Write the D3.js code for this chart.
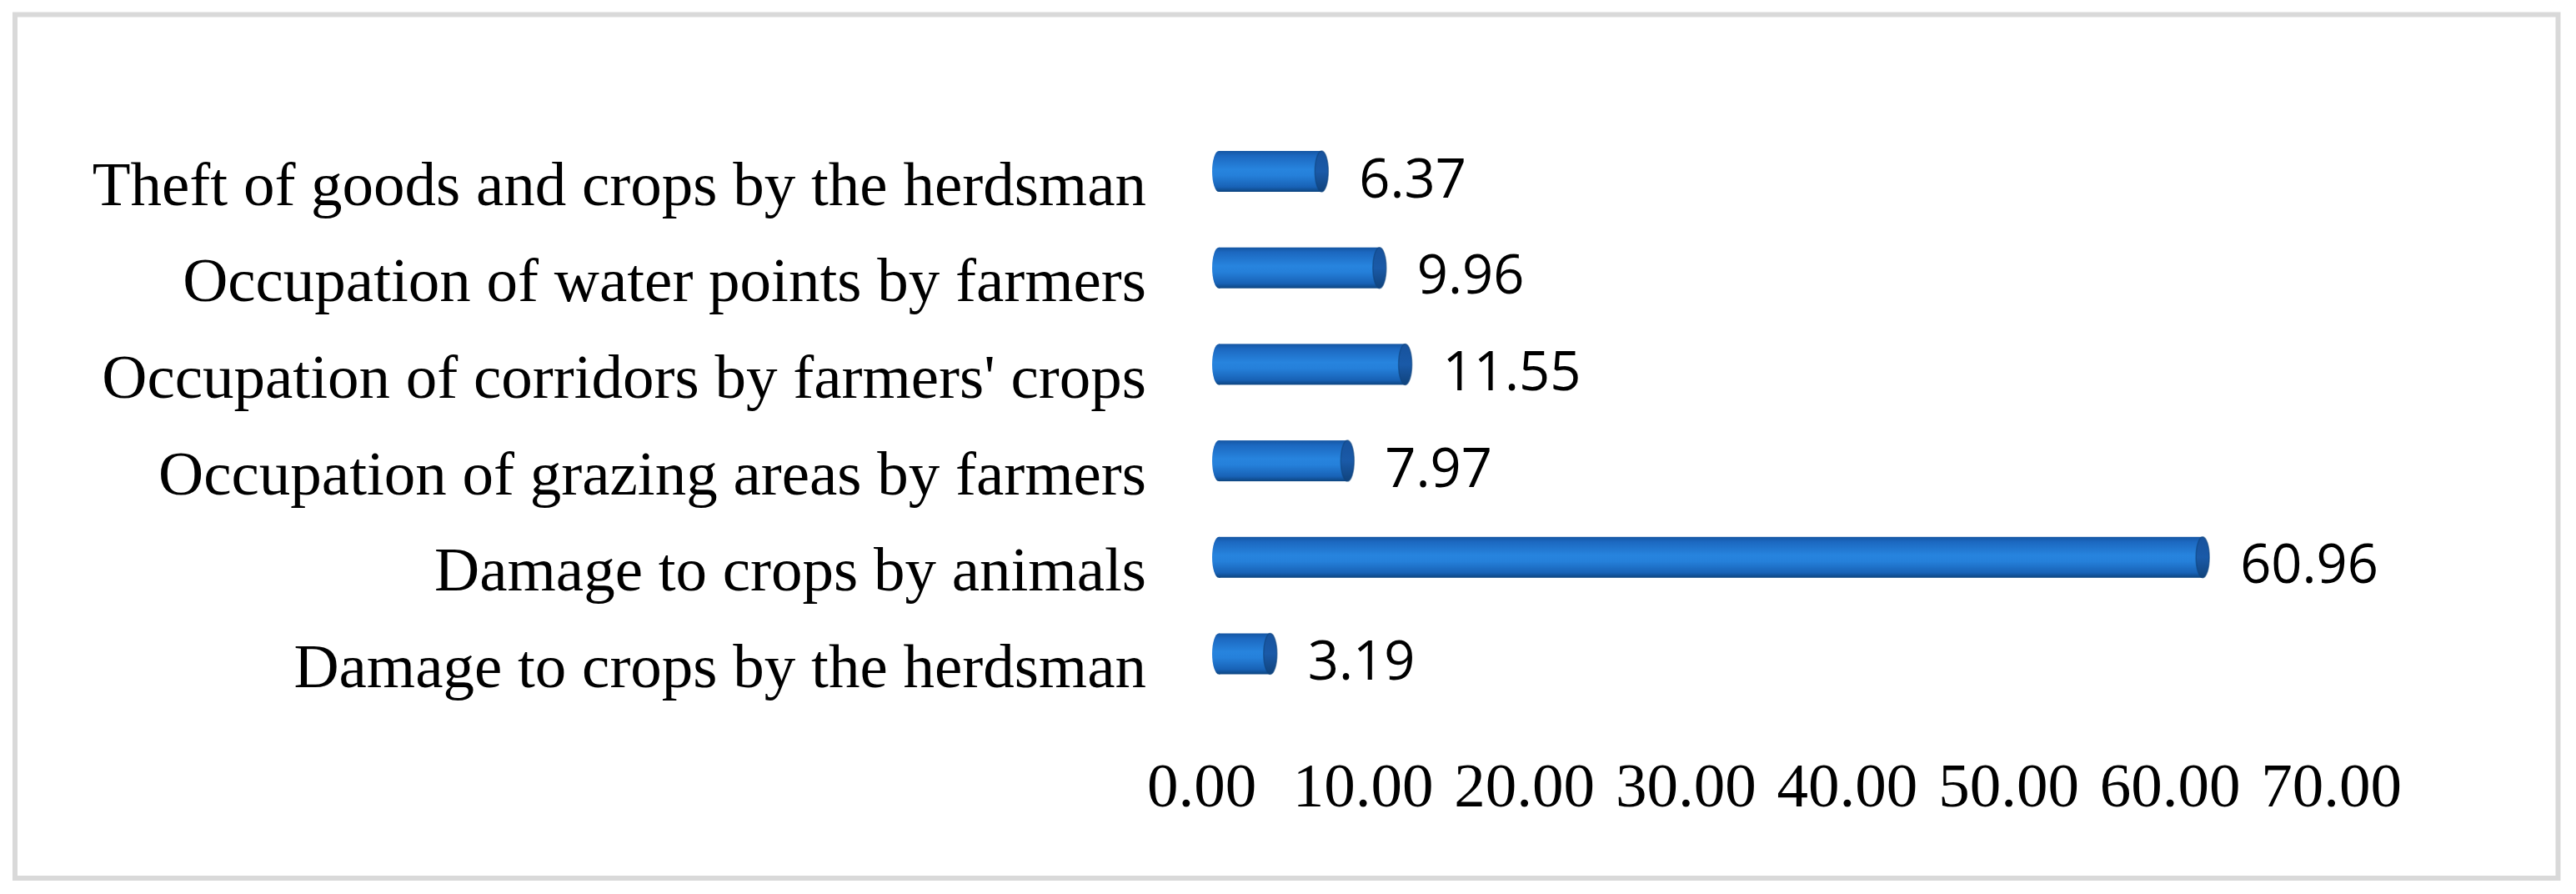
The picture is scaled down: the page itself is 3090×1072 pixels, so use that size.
<!DOCTYPE html>
<html>
<head>
<meta charset="utf-8">
<script src="https://cdn.jsdelivr.net/npm/d3@7"></script>
<style>
html,body{margin:0;padding:0;background:#fff;}
svg{display:block;}
</style>
</head>
<body>
<script>
const categories = [
  "Theft of goods and crops by the herdsman",
  "Occupation of water points by farmers",
  "Occupation of corridors by farmers' crops",
  "Occupation of grazing areas by farmers",
  "Damage to crops by animals",
  "Damage to crops by the herdsman"
];
const values = [6.37, 9.96, 11.55, 7.97, 60.96, 3.19];
const tickValues = [0, 10, 20, 30, 40, 50, 60, 70];

const W = 3090, H = 1072;
const svg = d3.select("body").append("svg").attr("width", W).attr("height", H);

// frame
svg.append("rect").attr("x", 18).attr("y", 17.5).attr("width", 3050.5).attr("height", 1035.5)
  .attr("fill", "#fff").attr("stroke", "#d9d9d9").attr("stroke-width", 6);

const x = d3.scaleLinear().domain([0, 70]).range([1441, 1441 + 70 * 19.36]);
const y = d3.scaleBand().domain(categories).range([147.65, 841.85]).padding(0);
const depth = 21, barH = 49, capRx = 8;

const defs = svg.append("defs");
const g1 = defs.append("linearGradient").attr("id", "body").attr("x1", 0).attr("y1", 0).attr("x2", 0).attr("y2", 1);
[["0%", "#1556a3"], ["12%", "#1c68c0"], ["45%", "#2784de"], ["60%", "#2580da"], ["88%", "#1862b6"], ["100%", "#0c447f"]]
  .forEach(([o, c]) => g1.append("stop").attr("offset", o).attr("stop-color", c));
const g2 = defs.append("linearGradient").attr("id", "cap").attr("x1", 0).attr("y1", 0).attr("x2", 0).attr("y2", 1);
[["0%", "#17529c"], ["50%", "#1a5aa8"], ["100%", "#10437c"]]
  .forEach(([o, c]) => g2.append("stop").attr("offset", o).attr("stop-color", c));

const data = categories.map((c, i) => ({c, v: values[i]}));
const bars = svg.append("g").selectAll("g").data(data).join("g");
bars.each(function(d) {
  const g = d3.select(this);
  const cy = y(d.c) + y.bandwidth() / 2;
  const L = x(0) + depth, E = x(d.v) + depth;
  g.append("ellipse").attr("cx", L).attr("cy", cy).attr("rx", capRx).attr("ry", barH / 2).attr("fill", "url(#body)");
  g.append("rect").attr("x", L).attr("y", cy - barH / 2).attr("width", E - L).attr("height", barH).attr("fill", "url(#body)");
  g.append("ellipse").attr("cx", E).attr("cy", cy).attr("rx", capRx).attr("ry", barH / 2).attr("fill", "url(#cap)")
    .attr("stroke", "#0f447f").attr("stroke-width", 1.5).attr("stroke-opacity", 0.6);
  g.append("text").attr("x", E + capRx + 37).attr("y", cy + 31)
    .attr("font-family", "'Open Sans', sans-serif").attr("font-size", 65).attr("fill", "#000")
    .text(d.v.toFixed(2));
});

// category labels
svg.append("g").selectAll("text").data(categories).join("text")
  .attr("x", 1375).attr("y", d => y(d) + y.bandwidth() / 2 + 40)
  .attr("text-anchor", "end")
  .attr("font-family", "'Liberation Serif', 'Times New Roman', serif").attr("font-size", 75).attr("fill", "#000")
  .text(d => d);

// x axis (labels only)
const axis = d3.axisBottom(x).tickValues(tickValues).tickFormat(d3.format(".2f")).tickSize(0).tickPadding(0);
const ax = svg.append("g").attr("transform", "translate(0,914)").call(axis);
ax.select(".domain").remove();
ax.selectAll("text").attr("font-family", "'Liberation Serif', 'Times New Roman', serif")
  .attr("font-size", 75).attr("fill", "#000").attr("dy", "0.71em");
</script>
</body>
</html>
